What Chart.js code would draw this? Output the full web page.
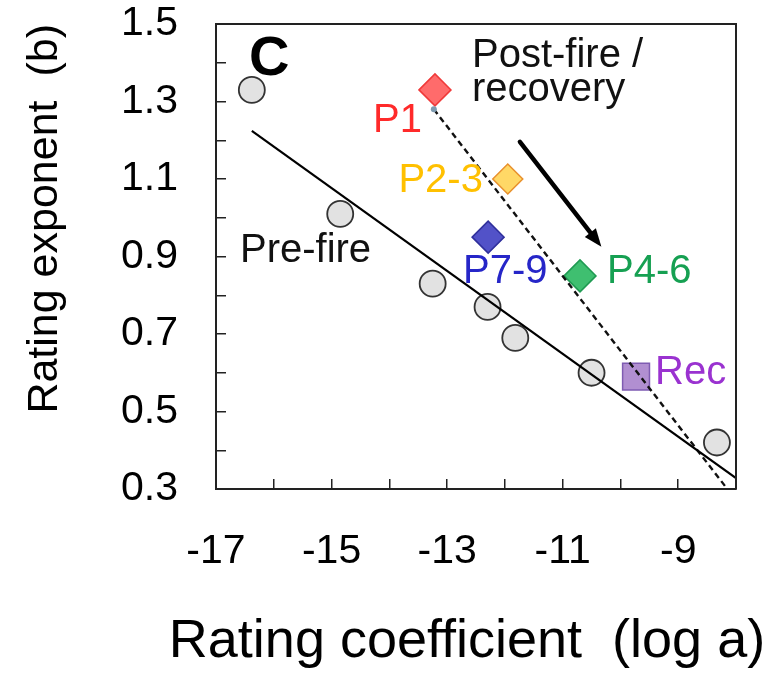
<!DOCTYPE html>
<html>
<head>
<meta charset="utf-8">
<script src="https://cdn.jsdelivr.net/npm/chart.js@4.4.1/dist/chart.umd.min.js"></script>
<style>
  body { margin: 0; background: #fff; }
  #wrap { width: 774px; height: 678px; }
</style>
</head>
<body>
<div id="wrap"><canvas id="ratingChart" width="774" height="678"></canvas></div>
<script>
// Rating coefficient (log a) vs. rating exponent (b)
const preFireX = [-16.38, -14.85, -13.25, -12.30, -11.82, -10.50, -8.33];
const preFireY = [1.33, 1.01, 0.83, 0.77, 0.69, 0.60, 0.42];

const periods = ['P1', 'P2-3', 'P7-9', 'P4-6', 'Rec'];
const postFireX = [-13.21, -11.95, -12.29, -10.70, -9.73];
const postFireY = [1.33, 1.10, 0.95, 0.85, 0.59];

// fitted lines (end points)
const preFitX = [-16.38, -8.0];
const preFitY = [1.224, 0.328];
const postFitX = [-13.23, -8.15];
const postFitY = [1.28, 0.30];

const xTicks = [-17, -15, -13, -11, -9];
const yTicks = [0.3, 0.5, 0.7, 0.9, 1.1, 1.3, 1.5];

// marker styles per period
const periodFill = ['#ff6b6b', '#ffd866', '#5252c8', '#3fbf70', '#b18fd1'];
const periodEdge = ['#f03a3a', '#e8902c', '#2f2f9c', '#1f9a52', '#7f5cb2'];
const periodText = ['#ff2a2a', '#ffc000', '#2626c8', '#16a052', '#9a32d0'];

const toPoints = (xs, ys) => xs.map((x, i) => ({ x: x, y: ys[i] }));

const FONT = '"Liberation Sans", Arial, sans-serif';
const X_TITLE = 'Rating coefficient  (log a)';

// text labels placed in data units
const notes = [
    { text: 'C', x: -16.43, y: 1.368, color: '#000', size: 56, bold: true, align: 'left' },
    { text: 'Post-fire /', x: -12.57, y: 1.389, color: '#111', size: 40, align: 'left' },
    { text: 'recovery', x: -12.57, y: 1.301, color: '#111', size: 40, align: 'left' },
    { text: 'Pre-fire', x: -16.585, y: 0.886, color: '#111', size: 40, align: 'left' },
    { text: periods[0], x: -13.435, y: 1.221, color: periodText[0], size: 40, align: 'right' },
    { text: periods[1], x: -12.38, y: 1.066, color: periodText[1], size: 40, align: 'right' },
    { text: periods[2], x: -12.725, y: 0.832, color: periodText[2], size: 40, align: 'left' },
    { text: periods[3], x: -10.233, y: 0.832, color: periodText[3], size: 40, align: 'left' },
    { text: periods[4], x: -9.40, y: 0.571, color: periodText[4], size: 40, align: 'left' }
];
const arrow = { from: [-11.74, 1.196], to: [-10.33, 0.925] };

const annotate = {
    id: 'annotate',
    afterDraw(chart) {
        const { ctx, chartArea: a, scales: { x, y } } = chart;
        ctx.save();
        // box around the plot
        ctx.strokeStyle = '#222';
        ctx.lineWidth = 2;
        ctx.beginPath();
        ctx.moveTo(a.left, a.top);
        ctx.lineTo(a.right, a.top);
        ctx.lineTo(a.right, a.bottom);
        ctx.stroke();

        notes.forEach(n => {
            ctx.font = (n.bold ? 'bold ' : '') + n.size + 'px ' + FONT;
            ctx.fillStyle = n.color;
            ctx.textAlign = n.align;
            ctx.textBaseline = 'alphabetic';
            ctx.fillText(n.text, x.getPixelForValue(n.x), y.getPixelForValue(n.y));
        });

        // x axis title, wider than the plot so drawn here
        ctx.font = '54px ' + FONT;
        ctx.fillStyle = '#000';
        ctx.textAlign = 'center';
        ctx.fillText(X_TITLE, (a.left + a.right) / 2 - 9, x.bottom - 21);

        // arrow
        const x1 = x.getPixelForValue(arrow.from[0]), y1 = y.getPixelForValue(arrow.from[1]);
        const x2 = x.getPixelForValue(arrow.to[0]), y2 = y.getPixelForValue(arrow.to[1]);
        const ang = Math.atan2(y2 - y1, x2 - x1);
        const head = 18, half = 7;
        ctx.strokeStyle = '#000';
        ctx.fillStyle = '#000';
        ctx.lineWidth = 4.5;
        ctx.lineCap = 'round';
        ctx.beginPath();
        ctx.moveTo(x1, y1);
        ctx.lineTo(x2 - Math.cos(ang) * head * 0.8, y2 - Math.sin(ang) * head * 0.8);
        ctx.stroke();
        ctx.beginPath();
        ctx.moveTo(x2, y2);
        ctx.lineTo(x2 - Math.cos(ang) * head - Math.sin(ang) * half, y2 - Math.sin(ang) * head + Math.cos(ang) * half);
        ctx.lineTo(x2 - Math.cos(ang) * head + Math.sin(ang) * half, y2 - Math.sin(ang) * head - Math.cos(ang) * half);
        ctx.closePath();
        ctx.fill();
        ctx.restore();
    }
};

// keep the plot box fixed: no extra room for overhanging tick labels
const noOverhang = s => {
    s.paddingTop = 0;
    s.paddingBottom = 0;
    s.paddingLeft = 0;
    s.paddingRight = 0;
};

const ctx = document.getElementById('ratingChart').getContext('2d');
const ratingChart = new Chart(ctx, {
    type: 'scatter',
    data: {
        datasets: [
            {
                label: 'Pre-fire fit',
                type: 'line',
                data: toPoints(preFitX, preFitY),
                borderColor: '#000',
                borderWidth: 2.2,
                pointRadius: 0,
                fill: false
            },
            {
                label: 'Post-fire fit',
                type: 'line',
                data: toPoints(postFitX, postFitY),
                borderColor: '#111',
                borderWidth: 2.4,
                borderDash: [6, 4],
                pointRadius: [3, 0],
                pointBackgroundColor: '#7d9ab0',
                pointBorderWidth: 0,
                fill: false
            },
            {
                label: 'Post-fire',
                data: toPoints(postFireX, postFireY),
                pointStyle: ['rectRot', 'rectRot', 'rectRot', 'rectRot', 'rect'],
                pointRadius: [16, 15, 16, 16, 19],
                pointBackgroundColor: periodFill,
                pointBorderColor: periodEdge,
                pointBorderWidth: 1.5
            },
            {
                label: 'Pre-fire',
                data: toPoints(preFireX, preFireY),
                pointStyle: 'circle',
                pointRadius: 13,
                pointBackgroundColor: '#e2e2e2',
                pointBorderColor: '#333',
                pointBorderWidth: 1.8
            }
        ]
    },
    options: {
        responsive: false,
        animation: false,
        layout: { padding: { top: 24, right: 38, left: 0, bottom: 0 } },
        plugins: {
            legend: { display: false },
            tooltip: { enabled: false }
        },
        scales: {
            x: {
                type: 'linear',
                min: -17,
                max: -8,
                afterFit: s => { s.height = 189; noOverhang(s); },
                border: { display: true, color: '#222', width: 2 },
                grid: { drawOnChartArea: false, drawTicks: true, tickLength: -10, color: '#222', lineWidth: 1.5 },
                ticks: {
                    stepSize: 1,
                    padding: 48,
                    autoSkip: false,
                    maxRotation: 0,
                    minRotation: 0,
                    color: '#000',
                    font: { family: FONT, size: 41 },
                    callback: v => xTicks.includes(v) ? String(v) : ''
                }
            },
            y: {
                type: 'linear',
                min: 0.3,
                max: 1.5,
                afterFit: s => { s.width = 216; noOverhang(s); },
                border: { display: true, color: '#222', width: 2 },
                grid: { drawOnChartArea: false, drawTicks: true, tickLength: -10, color: '#222', lineWidth: 1.5 },
                ticks: {
                    stepSize: 0.1,
                    padding: 48,
                    autoSkip: false,
                    color: '#000',
                    font: { family: FONT, size: 41 },
                    callback: v => yTicks.some(t => Math.abs(t - v) < 1e-6) ? v.toFixed(1) : ''
                },
                title: {
                    display: true,
                    text: 'Rating exponent  (b)',
                    align: 'end',
                    color: '#000',
                    font: { family: FONT, size: 43 },
                    padding: { top: 19, bottom: 0 }
                }
            }
        }
    },
    plugins: [annotate]
});
</script>
</body>
</html>
